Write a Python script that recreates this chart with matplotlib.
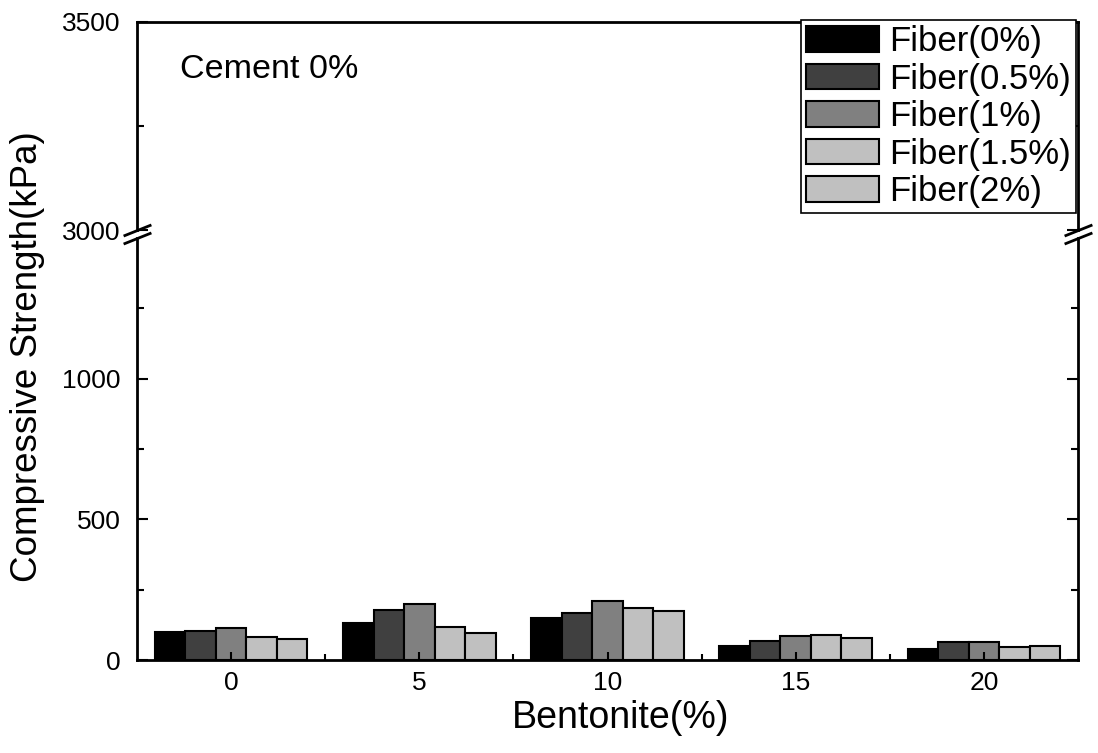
import numpy as np
import matplotlib.pyplot as plt

plt.rcParams['font.family'] = ['Liberation Sans', 'DejaVu Sans']

#-------------------------------------------------------------------------------
#DATA

bentonite = [0, 5, 10, 15, 20]
fiber_labels = ['Fiber(0%)', 'Fiber(0.5%)', 'Fiber(1%)', 'Fiber(1.5%)', 'Fiber(2%)']
fiber_colors = ['#000000', '#404040', '#808080', '#c0c0c0', '#c0c0c0']

#compressive strength (kPa), one list per fiber content, over bentonite content
fiber_0 = [98, 132, 149, 49, 40]
fiber_05 = [103, 177, 167, 66, 65]
fiber_1 = [115, 199, 211, 85, 65]
fiber_15 = [82, 118, 186, 90, 46]
fiber_2 = [76, 96, 173, 79, 49]

series = [fiber_0, fiber_05, fiber_1, fiber_15, fiber_2]

#-------------------------------------------------------------------------------
#PLOT

W, H = 1098, 753
fig = plt.figure(figsize=(W/100, H/100), dpi=100)

left, right = 137/W, 1078/W
ax_top = fig.add_axes([left, 1 - 230/H, right - left, (230 - 22)/H])
ax_bot = fig.add_axes([left, 1 - 660/H, right - left, (660 - 238)/H])

x = np.array(bentonite, dtype=float)
bw = 0.81
handles = []
for i, (vals, lab, col) in enumerate(zip(series, fiber_labels, fiber_colors)):
    off = (i - 2) * bw
    for ax in (ax_top, ax_bot):
        b = ax.bar(x + off, vals, width=bw, color=col, edgecolor='black',
                   linewidth=1.5, label=lab)
    handles.append(b)

ax_bot.set_ylim(0, 1500)
ax_top.set_ylim(3000, 3500)
for ax in (ax_top, ax_bot):
    ax.set_xlim(-2.5, 22.5)
    for s in ax.spines.values():
        s.set_linewidth(2)
    ax.tick_params(axis='y', which='both', direction='in', left=True, right=True,
                   labelsize=19, pad=12, width=1.5)
    ax.tick_params(axis='y', which='major', length=8)
    ax.tick_params(axis='y', which='minor', length=5)

ax_bot.set_yticks([0, 500, 1000])
ax_bot.set_yticks([250, 750, 1250], minor=True)
ax_top.set_yticks([3000, 3500])
ax_top.set_yticks([3250], minor=True)

ax_top.spines['bottom'].set_visible(False)
ax_bot.spines['top'].set_visible(False)
ax_top.tick_params(axis='x', which='both', bottom=False, top=False, labelbottom=False)

ax_bot.set_xticks(bentonite)
ax_bot.set_xticklabels([str(v) for v in bentonite])
ax_bot.set_xticks([2.5, 7.5, 12.5, 17.5], minor=True)
ax_bot.tick_params(axis='x', which='both', direction='in', top=False,
                   labelsize=19, pad=8, width=1.5)
ax_bot.tick_params(axis='x', which='major', length=6)
ax_bot.tick_params(axis='x', which='minor', length=4)

#break marks
kw = dict(marker=[(-1, -0.4), (1, 0.4)], markersize=20, linestyle='none',
          color='k', mec='k', mew=2, clip_on=False)
ax_top.plot([0, 1], [0, 0], transform=ax_top.transAxes, **kw)
ax_bot.plot([0, 1], [1, 1], transform=ax_bot.transAxes, **kw)

ax_top.text(0.046, 0.77, 'Cement 0%', transform=ax_top.transAxes,
            fontsize=24.5, ha='left', va='center')

leg = ax_top.legend(handles, fiber_labels, loc='upper right',
                    bbox_to_anchor=(1076/W, 1 - 20/H), bbox_transform=fig.transFigure,
                    fontsize=25, frameon=True, fancybox=False, framealpha=1,
                    borderaxespad=0, handlelength=2.1, handleheight=0.75,
                    handletextpad=0.3, labelspacing=0.13, borderpad=0.15)
leg.get_frame().set_edgecolor('black')
leg.get_frame().set_linewidth(1.2)
leg.set_zorder(10)

fig.text(28/W, 1 - 357/H, 'Compressive Strength(kPa)', rotation=90,
         ha='center', va='center', fontsize=26.5)
fig.text(621/W, 1 - 718/H, 'Bentonite(%)', ha='center', va='center', fontsize=27)

fig.savefig('out.png', dpi=100)
